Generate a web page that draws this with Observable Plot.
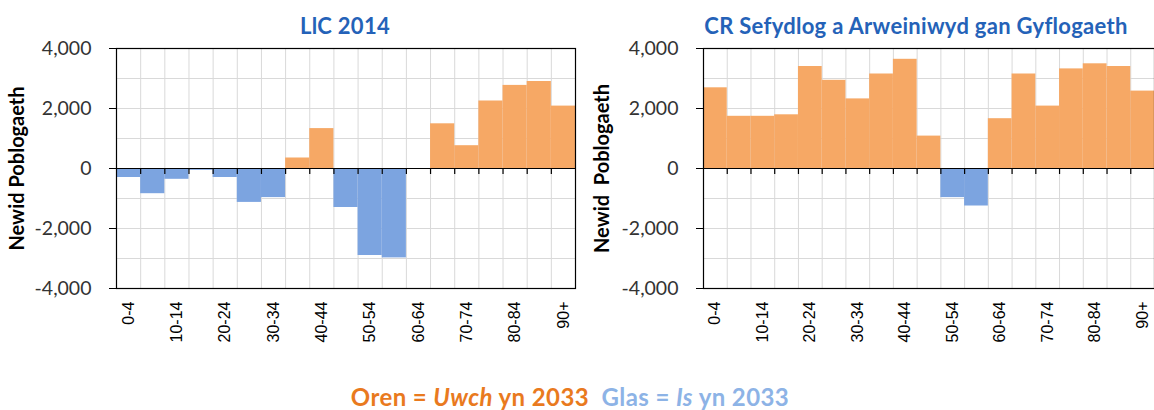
<!DOCTYPE html>
<html>
<head>
<meta charset="utf-8">
<script src="https://cdn.jsdelivr.net/npm/d3@7"></script>
<script src="https://cdn.jsdelivr.net/npm/@observablehq/plot@0.6"></script>
<style>
  body { margin: 0; background: #fff; width: 1154px; height: 410px; position: relative; overflow: hidden; font-family: Lato, "Open Sans", sans-serif; }
  .panel { position: absolute; top: 0; }
  .title { position: absolute; top: 12px; font-weight: bold; font-size: 22px; letter-spacing: 0.3px; color: #2462B8; white-space: nowrap; transform: translateX(-50%); }
  .legend { position: absolute; top: 382px; left: 570px; transform: translateX(-50%); font-weight: bold; font-size: 24px; letter-spacing: 0.4px; white-space: nowrap; }
</style>
</head>
<body>
<script>
const ageGroups = ["0-4","5-9","10-14","15-19","20-24","25-29","30-34","35-39","40-44","45-49","50-54","55-59","60-64","65-69","70-74","75-79","80-84","85-89","90+"];
const tickLabels = ["0-4","10-14","20-24","30-34","40-44","50-54","60-64","70-74","80-84","90+"];
const llc2014 = [-300,-840,-360,-60,-300,-1130,-970,350,1330,-1300,-2900,-2980,0,1490,760,2250,2770,2900,2080];
const crEmployment = [2690,1740,1740,1790,3400,2940,2320,3150,3640,1080,-970,-1250,1660,3150,2080,3320,3490,3400,2580];
const yTicks = [-4000,-2000,0,2000,4000];
const titles = ["LlC 2014", "CR Sefydlog a Arweiniwyd gan Gyflogaeth"];
const yLabels = ["Newid Poblogaeth", "Newid  Poblogaeth"];

const ORANGE = "#F6A865";
const BLUE = "#7CA4E0";
const GRID = "#d9d9d9";

function panel(values, yLabel, opts) {
  const data = values.map((v, i) => ({age: ageGroups[i], i, v}));
  const bounds = d3.range(1, ageGroups.length);
  const hGrid = d3.range(-4000, 4001, 1000);
  const tickPos = tickLabels.map(t => ageGroups.indexOf(t) + 0.5);
  return Plot.plot({
    width: opts.width,
    height: 360,
    marginTop: 48,
    marginBottom: 72,
    marginLeft: opts.marginLeft,
    marginRight: opts.marginRight,
    style: {fontFamily: "Lato, sans-serif", background: "transparent"},
    x: {domain: [0, ageGroups.length]},
    y: {domain: [-4000, 4000]},
    marks: [
      Plot.ruleY(hGrid, {stroke: GRID, strokeWidth: 1}),
      Plot.ruleX(bounds, {stroke: GRID, strokeWidth: 1}),
      Plot.rectY(data, {x1: d => d.i, x2: d => d.i + 1, y: "v", fill: d => d.v >= 0 ? ORANGE : BLUE}),
      Plot.ruleY([0], {stroke: "#000", strokeWidth: 1.2}),
      Plot.ruleX(bounds, {y1: 0, y2: -200, stroke: "#000", strokeWidth: 1.2}),
      Plot.frame({stroke: "#000", strokeWidth: 1.2}),
      Plot.axisY({ticks: yTicks, tickSize: 7, tickPadding: 18, fontSize: 19.5, label: null, fill: "#333",
        tickFormat: d => (d < 0 ? "-" : "") + d3.format(",")(Math.abs(d))}),
      Plot.axisX({ticks: tickPos, tickSize: 0, tickPadding: 13, tickRotate: -90, label: null,
        fontSize: 16, fontFamily: "Liberation Sans, Arial, sans-serif", fill: "#000",
        tickFormat: d => ageGroups[Math.floor(d)]}),
      Plot.text([yLabel], {frameAnchor: "left", textAnchor: "middle", dx: opts.labelDx, rotate: -90,
        fontWeight: "bold", fontSize: 20, fill: "#000"})
    ]
  });
}

const left = document.createElement("div");
left.className = "panel"; left.style.left = "0px";
left.append(panel(llc2014, yLabels[0], {width: 580, marginLeft: 116, marginRight: 5, labelDx: -99}));
document.body.append(left);

const right = document.createElement("div");
right.className = "panel"; right.style.left = "580px";
right.append(panel(crEmployment, yLabels[1], {width: 574, marginLeft: 123, marginRight: 0, labelDx: -101}));
document.body.append(right);

const t1 = document.createElement("div");
t1.className = "title"; t1.style.left = "345px"; t1.textContent = titles[0];
document.body.append(t1);
const t2 = document.createElement("div");
t2.className = "title"; t2.style.left = "916px"; t2.textContent = titles[1];
document.body.append(t2);

const legend = document.createElement("div");
legend.className = "legend";
legend.innerHTML = '<span style="color:#E97A1E">Oren = <i>Uwch</i> yn 2033</span>&nbsp; <span style="color:#8DB3E6">Glas = <i>Is</i> yn 2033</span>';
document.body.append(legend);
</script>
</body>
</html>
